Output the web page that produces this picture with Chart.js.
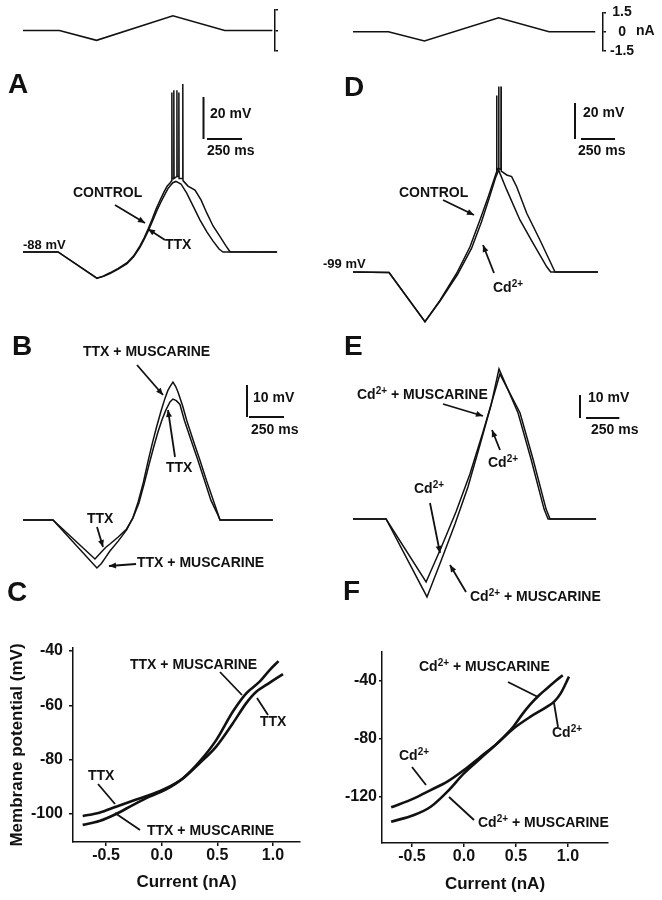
<!DOCTYPE html>
<html>
<head>
<meta charset="utf-8">
<title>Ramp responses</title>
<script src="https://cdn.jsdelivr.net/npm/chart.js@4.4.1/dist/chart.umd.min.js"></script>
<style>
  html, body { margin: 0; background: #fff; }
  #fig { position: relative; width: 662px; height: 900px; }
  #fig canvas { position: absolute; left: 0; top: 0; }
</style>
</head>
<body>
<div id="fig">
  <canvas id="cmdLeft" width="662" height="900"></canvas>
  <canvas id="cmdRight" width="662" height="900"></canvas>
  <canvas id="panelA" width="662" height="900"></canvas>
  <canvas id="panelD" width="662" height="900"></canvas>
  <canvas id="panelB" width="662" height="900"></canvas>
  <canvas id="panelE" width="662" height="900"></canvas>
  <canvas id="panelC" width="662" height="900"></canvas>
  <canvas id="panelF" width="662" height="900"></canvas>
</div>
<script>
// ---- data (time in ms, voltage in mV, current in nA) ----

// injected current ramp
const cmdTime = [0, 260, 525, 1070, 1440, 1780];
const cmdCurrent = [0, 0, -0.72, 1.08, 0, 0];
const cmdTicks = [-1.5, 0, 1.5];

// A: control vs TTX
const aCtrlT = [0, 250, 528, 575, 621, 680, 743, 790, 835, 865, 893, 922, 950, 980, 1007, 1030, 1050,
  1062, 1063, 1064.5, 1076, 1077, 1078.5, 1098, 1099, 1100.5, 1112, 1113, 1114.5, 1140, 1141, 1142.5,
  1178, 1228, 1271, 1312, 1357, 1407, 1449, 1478, 1814];
const aCtrlV = [-88, -88, -100.6, -99.4, -97.9, -95.8, -93.1, -89.8, -85.1, -81.2, -77.1, -72.4, -67.6, -63.2, -59.4, -56.6, -55.2,
  -54, -12, -53, -53, -11, -53, -52, -11, -52, -52, -12, -53, -53, -8, -54,
  -56.6, -58.5, -63.2, -69.4, -75.6, -80.7, -85.1, -87.9, -88];
const aTtxT = [0, 250, 528, 575, 621, 680, 743, 790, 835, 865, 895, 925, 955, 985, 1014, 1035, 1050, 1070, 1092, 1128, 1169, 1214, 1264, 1314, 1357, 1400, 1428, 1814];
const aTtxV = [-88, -88, -100.4, -99.6, -98.3, -96.2, -93.6, -90.3, -85.8, -82, -77.9, -73.2, -68.4, -64.2, -60.4, -57.8, -56.6, -55, -54.4, -55.6, -60, -66, -72.8, -78.5, -82.8, -86.6, -88, -88];

// D: control vs Cd2+
const dCtrlT = [0, 265, 529, 640, 762, 860, 933, 994, 1044, 1055, 1056, 1057.5, 1068, 1087, 1088, 1089.5, 1130, 1166, 1203, 1277, 1374, 1472, 1485, 1800];
const dCtrlV = [-99, -99.3, -126.6, -114.6, -99.7, -85, -70.1, -57.2, -46, -43.5, -1, -43, -41.5, -42, 4, -43, -45.1, -46, -51.6, -66.4, -81.2, -96.9, -99, -99];
const dCdT = [0, 265, 529, 640, 768, 871, 944, 1000, 1047, 1070, 1071, 1072.5, 1080, 1130, 1227, 1323, 1424, 1453, 1800];
const dCdV = [-99, -99.3, -126.6, -115.1, -100.4, -85.9, -71.2, -58.2, -46.8, -42.5, 4, -42.5, -44.2, -53.4, -70.1, -82.9, -96.1, -99, -99];

// B: TTX vs TTX + muscarine
const bTtxMT = [0, 214, 528, 560, 590, 621, 680, 740, 785, 823, 860, 895, 925, 955, 985, 1014, 1035, 1050, 1071, 1090, 1107, 1140, 1169, 1215, 1264, 1310, 1359, 1395, 1407, 1785];
const bTtxMV = [-88, -88, -103, -101.6, -99.7, -97.7, -94.6, -91.1, -87.3, -82.3, -76.2, -69.3, -63.8, -58.8, -54.1, -50, -47.5, -46.3, -44.9, -46.2, -48, -52.3, -56.8, -63, -69.3, -75.6, -81.8, -86.4, -88, -88];
const bTtxT = [0, 214, 514, 560, 590, 621, 680, 740, 785, 828, 865, 903, 934, 964, 993, 1021, 1050, 1071, 1095, 1121, 1153, 1200, 1250, 1296, 1342, 1392, 1407, 1785];
const bTtxV = [-88, -88, -100.2, -98, -96.6, -95.5, -93.3, -90.8, -87.4, -82.7, -76.8, -70.2, -65.1, -60.5, -56.7, -53.6, -51.1, -50.2, -50.7, -51.9, -56.9, -63, -69.4, -75.6, -81.8, -86.4, -88, -88];

// E: Cd2+ vs Cd2+ + muscarine
const eCdMT = [0, 248, 555, 660, 765, 862, 952, 1035, 1095, 1238, 1335, 1433, 1463, 1823];
const eCdMV = [-99, -99, -132.9, -117.3, -101.2, -85.1, -66.8, -49.6, -33.8, -52.9, -72.9, -94.7, -99, -99];
const eCdT = [0, 248, 548, 660, 772, 877, 975, 1050, 1102, 1253, 1350, 1448, 1478, 1823];
const eCdV = [-99, -99, -126.4, -111.6, -96, -79.4, -61.2, -46.4, -36, -52.9, -72.9, -94.7, -99, -99];

// C: I-V during the ramp, TTX vs TTX + muscarine
const cTtxI = [-0.71, -0.56, -0.41, -0.26, -0.11, 0.04, 0.19, 0.34, 0.49, 0.64, 0.76, 0.85, 0.94, 1.09];
const cTtxV = [-100.7, -99.5, -97.3, -95.1, -93, -90.5, -86.9, -81.3, -75.2, -66.6, -59.2, -55, -52.5, -48.5];
const cTtxMI = [-0.71, -0.56, -0.41, -0.26, -0.11, 0.04, 0.19, 0.34, 0.49, 0.64, 0.76, 0.88, 0.97, 1.05];
const cTtxMV = [-104, -102.6, -100, -96.7, -93.6, -90.9, -86.9, -80.7, -72.8, -62.3, -55.6, -51.3, -47, -43.7];
const cTicksX = [-0.5, 0, 0.5, 1.0];
const cTicksY = [-100, -80, -60, -40];

// F: I-V, Cd2+ vs Cd2+ + muscarine
const fCdI = [-0.70, -0.48, -0.32, -0.16, 0.0, 0.16, 0.32, 0.48, 0.64, 0.80, 0.87, 0.93, 1.01];
const fCdV = [-127.1, -120.9, -115.2, -109.4, -101.4, -92.2, -83, -72.6, -64.6, -57.7, -54, -48.5, -37];
const fCdMI = [-0.70, -0.48, -0.32, -0.16, 0.0, 0.16, 0.32, 0.48, 0.56, 0.64, 0.72, 0.80, 0.88, 0.95];
const fCdMV = [-137, -132.4, -126.7, -116.3, -103.7, -93.3, -83, -71, -63, -56, -50, -45, -40, -36];
const fTicksX = [-0.5, 0, 0.5, 1.0];
const fTicksY = [-120, -80, -40];

// scale bars
const barTime = 250;
const barVoltTop = 20;
const barVoltMid = 10;

// ---- drawing ----
const W = 662, H = 900;
const ink = '#111';
const FONT = "'Liberation Sans', Arial, Helvetica, sans-serif";
Chart.defaults.font.family = FONT;
Chart.defaults.color = ink;

function pairs(xs, ys) {
  return xs.map((x, i) => ({ x: x, y: ys[i] }));
}

// layout padding so that the plot area lands on `area`
function padFor(area, leftAxis, bottomAxis, rightAxis) {
  return {
    left: area.left - leftAxis,
    top: area.top,
    right: W - area.left - area.width - rightAxis,
    bottom: H - area.top - area.height - bottomAxis
  };
}

function drawText(ctx, t) {
  const size = t[3] || 14;
  const parts = t[0].split(/\^\{|\}/);
  let x = t[1];
  ctx.textBaseline = 'middle';
  ctx.textAlign = 'left';
  ctx.fillStyle = ink;
  parts.forEach((p, i) => {
    const sup = i % 2 === 1;
    ctx.font = 'bold ' + (sup ? Math.round(size * 0.68) : size) + 'px ' + FONT;
    ctx.fillText(p, x, sup ? t[2] - size * 0.3 : t[2]);
    x += ctx.measureText(p).width;
  });
}

function drawArrow(ctx, a, head) {
  ctx.strokeStyle = ink;
  ctx.fillStyle = ink;
  ctx.lineWidth = 1.8;
  ctx.beginPath();
  ctx.moveTo(a[0], a[1]);
  ctx.lineTo(a[2], a[3]);
  ctx.stroke();
  if (!head) return;
  const ang = Math.atan2(a[3] - a[1], a[2] - a[0]);
  const len = 7, half = 3;
  ctx.beginPath();
  ctx.moveTo(a[2], a[3]);
  ctx.lineTo(a[2] - len * Math.cos(ang) + half * Math.sin(ang), a[3] - len * Math.sin(ang) - half * Math.cos(ang));
  ctx.lineTo(a[2] - len * Math.cos(ang) - half * Math.sin(ang), a[3] - len * Math.sin(ang) + half * Math.cos(ang));
  ctx.closePath();
  ctx.fill();
}

// scale bar whose lengths come from the chart's own scales
function drawBar(ctx, chart, b) {
  const xs = chart.scales.x, ys = chart.scales.y;
  const h = Math.abs(ys.getPixelForValue(ys.min + b.mv) - ys.getPixelForValue(ys.min));
  const w = xs.getPixelForValue(xs.min + b.ms) - xs.getPixelForValue(xs.min);
  ctx.strokeStyle = ink;
  ctx.lineWidth = 2;
  ctx.beginPath();
  ctx.moveTo(b.vx, b.y);
  ctx.lineTo(b.vx, b.y - h);
  ctx.moveTo(b.hx, b.y);
  ctx.lineTo(b.hx + w, b.y);
  ctx.stroke();
  drawText(ctx, [b.mv + ' mV', b.tx1, b.ty1]);
  drawText(ctx, [b.ms + ' ms', b.tx2, b.ty2]);
}

function notesPlugin(n) {
  return {
    id: 'notes',
    afterDraw(chart) {
      const ctx = chart.ctx;
      ctx.save();
      if (n.bar) drawBar(ctx, chart, n.bar);
      (n.arrows || []).forEach(a => drawArrow(ctx, a, n.heads));
      (n.texts || []).forEach(t => drawText(ctx, t));
      ctx.restore();
    }
  };
}

const common = {
  responsive: false,
  animation: false,
  devicePixelRatio: 1,
  events: [],
  plugins: { legend: { display: false }, tooltip: { enabled: false } }
};

function cmdChart(id, f) {
  return new Chart(document.getElementById(id), {
    type: 'line',
    data: { datasets: [{ data: pairs(cmdTime, cmdCurrent), borderColor: ink, borderWidth: 1.6, pointRadius: 0, clip: false }] },
    options: Object.assign({}, common, {
      layout: { padding: padFor(f.area, 0, 0, f.rw) },
      scales: {
        x: { type: 'linear', display: false, min: 0, max: f.xmax },
        y: {
          type: 'linear', position: 'right', min: -1.5, max: 1.5,
          afterBuildTicks: s => { s.ticks = cmdTicks.map(v => ({ value: v })); },
          afterFit: s => { s.width = f.rw; },
          grid: { drawOnChartArea: false, tickLength: 3, color: ink, lineWidth: 1.5 },
          border: { color: ink, width: 1.5 },
          ticks: {
            display: f.labels, crossAlign: 'center', padding: 4, color: ink,
            font: { size: 14, weight: 'bold' },
            callback: v => (v === 0 ? '0' : v.toFixed(1))
          }
        }
      }
    }),
    plugins: [notesPlugin(f.notes || {})]
  });
}

function traceChart(id, lines, f) {
  return new Chart(document.getElementById(id), {
    type: 'line',
    data: {
      datasets: lines.map(l => ({
        data: pairs(l[0], l[1]), borderColor: ink, borderWidth: 1.5,
        pointRadius: 0, tension: 0, clip: false
      }))
    },
    options: Object.assign({}, common, {
      layout: { padding: padFor(f.area, 0, 0, 0) },
      scales: {
        x: { type: 'linear', display: false, min: f.x[0], max: f.x[1] },
        y: { type: 'linear', display: false, min: f.y[0], max: f.y[1] }
      }
    }),
    plugins: [notesPlugin(f.notes)]
  });
}

function ivChart(id, lines, f) {
  const tickFont = { size: 16, weight: 'bold' };
  const titleFont = { size: 17, weight: 'bold' };
  return new Chart(document.getElementById(id), {
    type: 'line',
    data: {
      datasets: lines.map(l => ({
        data: pairs(l[0], l[1]), borderColor: ink, borderWidth: 2.6,
        pointRadius: 0, cubicInterpolationMode: 'monotone', clip: false
      }))
    },
    options: Object.assign({}, common, {
      layout: { padding: padFor(f.area, f.yw, f.xh, 0) },
      scales: {
        x: {
          type: 'linear', min: f.x[0], max: f.x[1],
          afterBuildTicks: s => { s.ticks = f.xt.map(v => ({ value: v })); },
          afterFit: s => { s.height = f.xh; },
          grid: { drawOnChartArea: false, tickLength: 4, color: ink, lineWidth: 1.5 },
          border: { color: ink, width: 1.5 },
          ticks: { padding: 0, color: ink, font: tickFont, callback: v => v.toFixed(1) },
          title: { display: true, text: 'Current (nA)', color: ink, font: titleFont, padding: { top: 4, bottom: 4 } }
        },
        y: {
          type: 'linear', min: f.y[0], max: f.y[1],
          afterBuildTicks: s => { s.ticks = f.yt.map(v => ({ value: v })); },
          afterFit: s => { s.width = f.yw; },
          grid: { drawOnChartArea: false, tickLength: f.ytl, color: ink, lineWidth: 1.5 },
          border: { color: ink, width: 1.5 },
          ticks: { padding: f.ypad, color: ink, font: tickFont, callback: v => String(v) },
          title: { display: !!f.ytitle, text: f.ytitle || '', color: ink, font: titleFont, padding: { top: 4, bottom: 4 } }
        }
      }
    }),
    plugins: [notesPlugin(f.notes)]
  });
}

// current commands
cmdChart('cmdLeft', { area: { left: 23, top: 10, width: 252, height: 41 }, rw: 10, xmax: 1799, labels: false });
cmdChart('cmdRight', {
  area: { left: 353, top: 10, width: 250, height: 41 }, rw: 50, xmax: 1837, labels: true,
  notes: { texts: [['nA', 636, 31]] }
});

// A
traceChart('panelA', [[aCtrlT, aCtrlV], [aTtxT, aTtxV]], {
  area: { left: 23, top: 77.7, width: 254.9, height: 210 }, x: [0, 1820], y: [-105, -5],
  notes: {
    heads: true,
    bar: { mv: barVoltTop, ms: barTime, vx: 203.5, hx: 207, y: 139, tx1: 210, ty1: 114, tx2: 207, ty2: 151 },
    arrows: [[115, 205, 145, 223], [165, 240, 148, 229]],
    texts: [['A', 8, 85, 28], ['CONTROL', 73, 193], ['TTX', 165, 245], ['-88 mV', 23, 245, 13]]
  }
});

// D
traceChart('panelD', [[dCtrlT, dCtrlV], [dCdT, dCdV]], {
  area: { left: 353, top: 66.8, width: 244.9, height: 270 }, x: [0, 1800], y: [-135, 15],
  notes: {
    heads: true,
    bar: { mv: barVoltTop, ms: barTime, vx: 575, hx: 581, y: 139, tx1: 583, ty1: 113, tx2: 578, ty2: 151 },
    arrows: [[443, 200, 474, 215], [494, 273, 483, 245]],
    texts: [['D', 344, 88, 28], ['CONTROL', 399, 193], ['Cd^{2+}', 493, 288], ['-99 mV', 323, 264, 13]]
  }
});

// B
traceChart('panelB', [[bTtxMT, bTtxMV], [bTtxT, bTtxV]], {
  area: { left: 23, top: 350.4, width: 252, height: 240 }, x: [0, 1800], y: [-110, -35],
  notes: {
    heads: true,
    bar: { mv: barVoltMid, ms: barTime, vx: 247, hx: 249, y: 417, tx1: 253, ty1: 398, tx2: 251, ty2: 430 },
    arrows: [[137, 365, 163, 395], [175, 457, 168, 410], [97, 527, 103, 547], [136, 564, 109, 566]],
    texts: [['B', 12, 347, 28], ['TTX + MUSCARINE', 83, 352], ['TTX', 166, 468], ['TTX', 87, 519], ['TTX + MUSCARINE', 137, 563]]
  }
});

// E
traceChart('panelE', [[eCdMT, eCdMV], [eCdT, eCdV]], {
  area: { left: 353, top: 348.8, width: 244, height: 264.5 }, x: [0, 1830], y: [-140, -25],
  notes: {
    heads: true,
    bar: { mv: barVoltMid, ms: barTime, vx: 580, hx: 586, y: 418, tx1: 588, ty1: 398, tx2: 591, ty2: 430 },
    arrows: [[443, 404, 483, 416], [500, 450, 492, 430], [430, 503, 440, 553], [466, 592, 450, 565]],
    texts: [['E', 344, 347, 28], ['Cd^{2+} + MUSCARINE', 357, 395], ['Cd^{2+}', 488, 463], ['Cd^{2+}', 414, 489],
            ['Cd^{2+} + MUSCARINE', 470, 597], ['F', 343, 592, 28]]
  }
});

// C
ivChart('panelC', [[cTtxI, cTtxV], [cTtxMI, cTtxMV]], {
  area: { left: 73, top: 648, width: 227, height: 194 }, x: [-0.797, 1.243], y: [-110.3, -38.9],
  xt: cTicksX, yt: cTicksY, yw: 70, xh: 55, ytl: 4, ypad: 6, ytitle: 'Membrane potential (mV)',
  notes: {
    heads: false,
    arrows: [[220, 672, 242, 695], [268, 715, 257, 698], [98, 784, 115, 804], [140, 830, 115, 813]],
    texts: [['C', 7, 593, 28], ['TTX + MUSCARINE', 130, 665], ['TTX', 260, 722], ['TTX', 88, 776], ['TTX + MUSCARINE', 147, 831]]
  }
});

// F
ivChart('panelF', [[fCdI, fCdV], [fCdMI, fCdMV]], {
  area: { left: 382, top: 652, width: 226, height: 191 }, x: [-0.788, 1.385], y: [-151.7, -20],
  xt: fTicksX, yt: fTicksY, yw: 50, xh: 56, ytl: 3, ypad: 2,
  notes: {
    heads: false,
    arrows: [[508, 682, 538, 697], [558, 727, 554, 703], [412, 767, 426, 785], [474, 820, 449, 797]],
    texts: [['Cd^{2+} + MUSCARINE', 419, 667], ['Cd^{2+}', 552, 733], ['Cd^{2+}', 399, 756], ['Cd^{2+} + MUSCARINE', 478, 823]]
  }
});
</script>
</body>
</html>
